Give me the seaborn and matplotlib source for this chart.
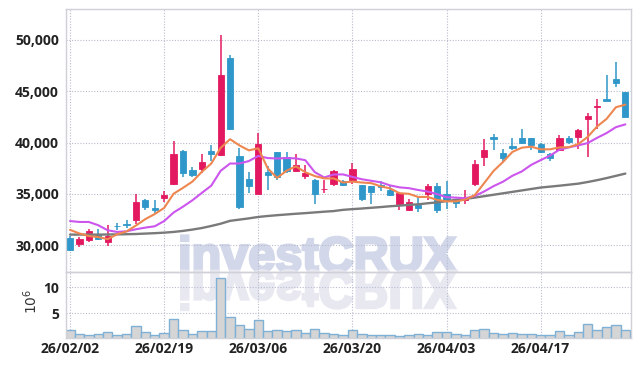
import matplotlib
matplotlib.use("Agg")
import matplotlib.pyplot as plt
import numpy as np
import seaborn as sns
from matplotlib.font_manager import FontProperties
from matplotlib.patches import PathPatch
from matplotlib.textpath import TextPath
from matplotlib.transforms import Affine2D
from matplotlib.ticker import FuncFormatter

# ── data ──────────────────────────────────────────────────────────────────────
dates = [
    "26/02/02", "26/02/03", "26/02/04", "26/02/05", "26/02/06", "26/02/09", "26/02/10", "26/02/11",
    "26/02/12", "26/02/13", "26/02/19", "26/02/20", "26/02/23", "26/02/24", "26/02/25", "26/02/26",
    "26/02/27", "26/03/03", "26/03/04", "26/03/05", "26/03/06", "26/03/09", "26/03/10", "26/03/11",
    "26/03/12", "26/03/13", "26/03/16", "26/03/17", "26/03/18", "26/03/19", "26/03/20", "26/03/23",
    "26/03/24", "26/03/25", "26/03/26", "26/03/27", "26/03/30", "26/03/31", "26/04/01", "26/04/02",
    "26/04/03", "26/04/06", "26/04/07", "26/04/08", "26/04/09", "26/04/10", "26/04/13", "26/04/14",
    "26/04/15", "26/04/16", "26/04/17", "26/04/20", "26/04/21", "26/04/22", "26/04/23", "26/04/24",
    "26/04/27", "26/04/28", "26/04/29", "26/04/30",
]
opens = [30700, 30100, 30500, 31050, 30300, 31900, 32050, 32450, 34450, 33650,
         34600, 36000, 39150, 37350, 37450, 39150, 38750, 48250, 38650, 36500,
         34950, 37100, 39050, 38550, 37200, 36700, 36400, 35450, 36000, 36300,
         36400, 35850, 35750, 35850, 35350, 34050, 33400, 33900, 34950, 35750,
         34950, 34500, 34400, 36000, 38600, 40500, 39000, 39650, 40450, 40400,
         39900, 38900, 39300, 40400, 40550, 42300, 43450, 44250, 46200, 44900]
highs = [30900, 30800, 31550, 31600, 31950, 32150, 32500, 35000, 34500, 34400,
         35300, 40200, 39250, 37600, 38850, 39800, 50450, 48500, 39500, 37150,
         40950, 37700, 39100, 39100, 38900, 37800, 36450, 36400, 37300, 36350,
         38000, 35900, 35800, 36250, 35850, 35150, 34550, 34750, 35950, 36050,
         36300, 34550, 35400, 38350, 40300, 40800, 39400, 40400, 41300, 40450,
         39950, 38950, 40700, 40650, 41300, 42900, 44200, 46550, 47800, 44950]
lows = [29450, 29800, 30300, 30550, 29950, 31450, 31700, 32100, 33400, 33150,
        34200, 35900, 36600, 36650, 37000, 38200, 38700, 41200, 33550, 35100,
        34950, 35350, 36400, 37050, 37150, 36450, 34050, 35100, 35750, 35750,
        36000, 34300, 34050, 35300, 34800, 33400, 33350, 33200, 34400, 33100,
        33550, 33600, 34050, 35750, 37700, 39300, 38150, 39250, 39850, 39300,
        38950, 38200, 39250, 39850, 39400, 38600, 41350, 44000, 45450, 42450]
closes = [29500, 30600, 31350, 30600, 30950, 31850, 32000, 34200, 33750, 33400,
          34850, 38900, 37050, 36800, 38150, 38850, 46550, 41300, 33750, 35750,
          39850, 36800, 36650, 37250, 37850, 37000, 34950, 35500, 37250, 35850,
          37450, 34500, 35200, 35700, 34850, 35100, 34200, 33650, 35750, 33400,
          34400, 34150, 34550, 37900, 39250, 40350, 38500, 39450, 39950, 39750,
          39050, 38500, 40400, 40050, 41250, 42550, 43600, 44050, 45750, 42500]
volume = [1.80, 1.03, 0.77, 0.96, 1.41, 0.77, 0.96, 2.50, 1.41, 0.77,
          1.22, 3.85, 1.80, 0.96, 1.54, 1.54, 11.7, 4.23, 2.70, 1.92,
          3.65, 1.54, 1.73, 1.60, 1.73, 1.15, 1.92, 1.15, 0.96, 0.90,
          1.73, 0.96, 0.77, 0.77, 0.77, 0.58, 0.77, 0.96, 0.77, 1.35,
          1.35, 0.96, 0.77, 1.73, 1.92, 1.15, 0.96, 1.15, 0.96, 0.96,
          0.77, 0.77, 1.54, 0.77, 1.35, 2.90, 1.73, 2.30, 2.70, 1.73]  # x 10^6
ma5 = [31500, 31150, 30900, 30800, 30600, 31070, 31350, 31920, 32550, 33040,
       33640, 35020, 35590, 36200, 37150, 37950, 39480, 40330, 39720, 39240,
       39440, 37490, 36560, 37260, 37680, 37110, 36740, 36510, 36510, 36110,
       36200, 36110, 36050, 35740, 35540, 35070, 35010, 34700, 34710, 34420,
       34280, 34270, 34450, 34880, 36050, 37240, 38110, 39090, 39500, 39600,
       39340, 39340, 39530, 39550, 39850, 40550, 41570, 42300, 43440, 43690]
ma10 = [32360, 32270, 32270, 31950, 31460, 31300, 31360, 31560, 31720, 31850,
        32360, 33190, 33760, 34380, 35100, 35800, 37250, 37960, 37960, 38200,
        38700, 38490, 38450, 38490, 38460, 38280, 37120, 36600, 36890, 36900,
        36660, 36430, 36280, 36130, 35830, 35640, 35560, 35380, 35230, 34980,
        34680, 34640, 34580, 34800, 35240, 35760, 36190, 36770, 37190, 37830,
        38290, 38730, 39310, 39530, 39730, 39950, 40460, 40920, 41500, 41770]
ma_long = [31040, 31040, 31040, 31040, 31050, 31060, 31080, 31100, 31140, 31180,
           31230, 31300, 31400, 31530, 31680, 31880, 32100, 32380, 32500, 32620,
           32760, 32850, 32930, 33000, 33070, 33130, 33200, 33270, 33330, 33450,
           33520, 33580, 33650, 33720, 33800, 33860, 33930, 33990, 34090, 34180,
           34300, 34420, 34520, 34640, 34780, 34920, 35060, 35200, 35340, 35480,
           35620, 35710, 35800, 35900, 36000, 36160, 36340, 36540, 36760, 36980]
tick_idx = [0, 10, 20, 30, 40, 50]
price_ticks = [30000, 35000, 40000, 45000, 50000]
vol_ticks = [5, 10]

RED = "#e3195f"
BLUE = "#2f97c9"
ORANGE = "#ee8650"
PURPLE = "#cc55ee"
GRAY = "#7a7a7a"
GRID = "#b8bccf"
SPINE = "#cfd0d8"

sns.set_theme(style="white")
plt.rcParams["font.family"] = ["Open Sans", "DejaVu Sans"]

fig = plt.figure(figsize=(6.39, 3.66), dpi=100)
ax = fig.add_axes([66 / 639, 1 - 272 / 366, 565 / 639, 263 / 366])
axv = fig.add_axes([66 / 639, 1 - 338 / 366, 565 / 639, 66 / 366], sharex=ax)

# watermark with reflection, behind both panels
prop = FontProperties(family=["Liberation Sans", "DejaVu Sans"], weight="bold", size=36)
tp = TextPath((0, 0), "investCRUX", size=35, prop=prop)
x0, y0 = 178 / 100, (366 - 271) / 100
wm = PathPatch(tp, transform=Affine2D().scale(1 / 72).translate(x0, y0) + fig.dpi_scale_trans,
               facecolor="#d2d7ea", edgecolor="#d2d7ea", linewidth=2.0, zorder=-2)
wm_ref = PathPatch(tp, transform=Affine2D().scale(1 / 72, -1.1 / 72).translate(x0, y0) + fig.dpi_scale_trans,
                   facecolor="#e8e8f1", edgecolor="#e8e8f1", linewidth=2.0, zorder=-2)
fig.add_artist(wm)
fig.add_artist(wm_ref)

x = np.arange(len(dates))
o = np.array(opens)
c = np.array(closes)
cols = np.where(c >= o, RED, BLUE)

# candles
ax.vlines(x, lows, highs, colors=cols, lw=1.1, zorder=2)
ax.bar(x, np.abs(c - o), bottom=np.minimum(o, c), width=0.66, color=cols,
       edgecolor=cols, linewidth=0.6, zorder=3)

# moving averages
sns.lineplot(x=x, y=ma_long, ax=ax, color=GRAY, lw=1.7, zorder=4)
sns.lineplot(x=x, y=ma10, ax=ax, color=PURPLE, lw=1.5, zorder=4)
sns.lineplot(x=x, y=ma5, ax=ax, color=ORANGE, lw=1.5, zorder=5)

# volume
sns.barplot(x=x, y=volume, ax=axv, native_scale=True, width=1, color="#d5d5d5",
            saturation=1, edgecolor="#7fb0d6", linewidth=1.0, errorbar=None, zorder=2)

for a in (ax, axv):
    a.set_facecolor("none")
    a.set_xlabel("")
    a.set_ylabel("")
    a.grid(True, color=GRID, linestyle=(0, (1, 1.5)), linewidth=0.8, zorder=0)
    a.set_axisbelow(True)
    for s in a.spines.values():
        s.set_color(SPINE)
        s.set_linewidth(1.0)
    a.tick_params(length=0, colors="#222222", labelsize=10)

ax.set_xlim(-0.43, 59.6)
ax.set_xticks(tick_idx)
ax.tick_params(labelbottom=False)
ax.set_ylim(27400, 53000)
ax.set_yticks(price_ticks)
ax.yaxis.set_major_formatter(FuncFormatter(lambda v, _: f"{v:,.0f}"))
ax.tick_params(axis="y", pad=5)

axv.set_ylim(0.25, 12.95)
axv.set_yticks(vol_ticks)
axv.set_xticks(tick_idx)
axv.set_xticklabels([dates[i] for i in tick_idx])
axv.tick_params(axis="x", pad=3)
axv.tick_params(axis="y", pad=5)

for a in (ax, axv):
    for lab in a.get_xticklabels() + a.get_yticklabels():
        lab.set_fontweight("bold")

fig.text(32 / 639, 1 - 301 / 366, r"$10^6$", rotation=90, ha="center", va="center",
         fontsize=10, color="#333333")

fig.savefig("out.png", dpi=100, facecolor="white")
